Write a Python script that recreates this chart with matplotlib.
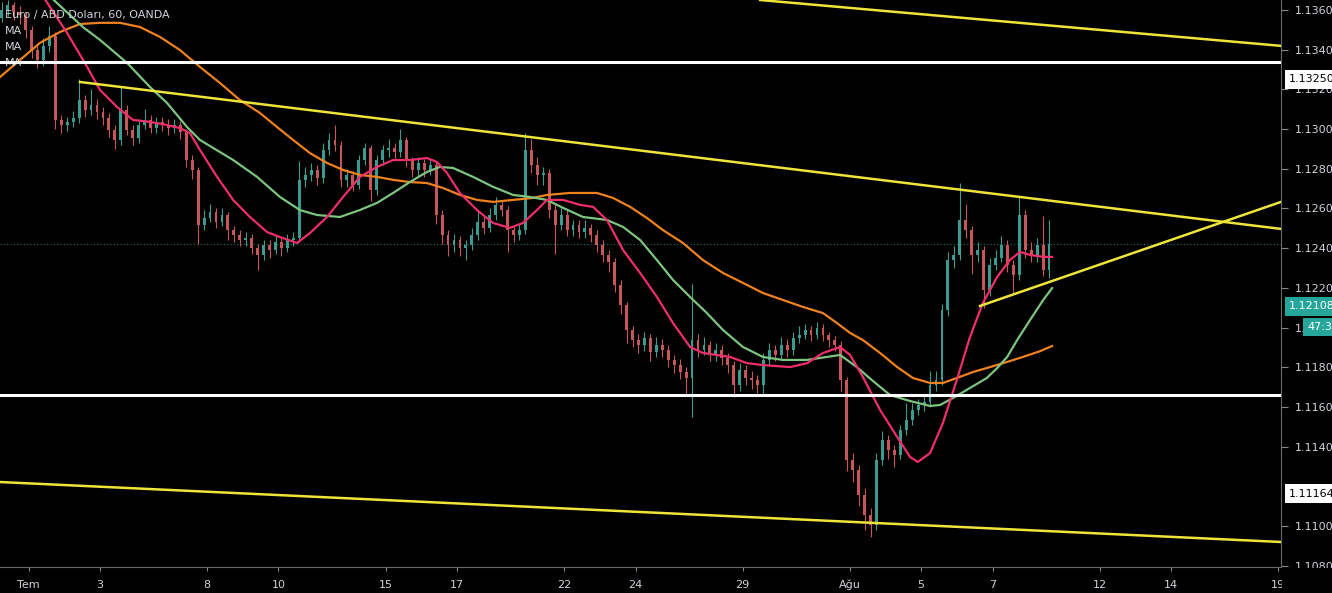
import matplotlib
matplotlib.use('Agg')
import matplotlib.pyplot as plt
import matplotlib.transforms as mtransforms
from matplotlib.patches import Rectangle
import numpy as np

# EUR/USD 4h candles, prices given as pips above 1.1000
first_open = 356
closes = [360, 362.5, 359, 357.5, 350, 340, 335, 342, 347, 304.5,
          302, 303.5, 305.5, 314.6, 309.6, 312, 308.6, 305.6, 299.5, 294.5,
          309.6, 299.5, 295.5, 302, 304.5, 300.5, 303.5, 302, 300.5, 302,
          298.5, 284.4, 279.3, 251.6, 255.2, 258.2, 253.2, 256.7, 249.1, 246.6,
          244.1, 245.1, 240.1, 236.5, 241.6, 239.1, 243.1, 240.1, 244.1, 245.1,
          274.3, 276.8, 279.3, 275.3, 289.4, 294.5, 292, 274.3, 276.8, 271.8,
          284.4, 290.4, 269.3, 284.4, 289.4, 290.4, 288.4, 294.5, 284.4, 279.3,
          282.9, 279.3, 281.9, 256.7, 246.6, 241.6, 244.1, 240.1, 241.6, 246.6,
          253.2, 250.1, 256.7, 261.7, 259.2, 249.1, 246.6, 249.1, 289.4, 281.9,
          276.8, 278, 259.2, 251.6, 256.7, 249.1, 251.6, 248.1, 250.1, 246.6,
          241.6, 236.5, 233, 221.4, 211.4, 198.8, 193.7, 191.2, 194.7, 187.7,
          191.2, 188.7, 183.6, 181.1, 177.6, 174.6, 193.7, 188.7, 191.2, 186.1,
          188.7, 184.6, 181.1, 171.1, 178.6, 174.6, 173.6, 171.1, 183.6, 188.7,
          186.1, 191.2, 188.7, 194.7, 196.2, 198.8, 196.2, 199.8, 196.2, 193.7,
          191.2, 173.6, 133.3, 128.2, 115.6, 105.5, 100.5, 133.3, 143.4, 138.3,
          135.8, 148.4, 153.4, 158.5, 161, 162.5, 171.1, 173.6, 208.8, 234,
          236.5, 254.2, 249.1, 236.5, 239.1, 218.9, 231.5, 235, 241.6, 231.5,
          226.5, 256.7, 239.1, 236.5, 241.6, 229, 242]
highs = [364, 365, 364, 362, 359, 352, 343, 346, 352, 349,
         307, 306, 309, 325, 317, 320, 315, 311, 308, 302,
         321, 312, 302, 305, 310, 307, 306, 306, 305, 305,
         304, 300, 287, 281, 259, 262, 260, 260, 258, 251,
         249, 248, 247, 242, 244, 244, 246, 245, 247, 248,
         284, 281, 283, 282, 293, 298, 302, 294, 280, 279,
         287, 293, 292, 287, 292, 295, 293, 300, 296, 286,
         286, 285, 285, 284, 259, 249, 247, 246, 244, 250,
         259, 256, 260, 266, 264, 261, 251, 252, 298, 295,
         286, 281, 280, 262, 260, 259, 254, 254, 254, 252,
         249, 244, 239, 235, 224, 213, 201, 197, 198, 197,
         195, 194, 191, 186, 184, 180, 222, 197, 195, 193,
         192, 191, 187, 183, 182, 181, 178, 176, 187, 192,
         191, 195, 194, 198, 201, 202, 201, 203, 202, 198,
         196, 193, 175, 137, 131, 119, 109, 137, 148, 146,
         141, 151, 162, 162, 164, 166, 178, 178, 212, 238,
         241, 273, 262, 251, 243, 241, 235, 239, 246, 244,
         234, 266, 259, 243, 245, 256, 254]
lows = [354, 357, 355, 353, 346, 336, 331, 332, 339, 300,
        298, 299, 301, 303, 306, 307, 305, 302, 296, 290,
        292, 297, 292, 293, 300, 298, 298, 299, 297, 298,
        295, 281, 275, 242, 249, 253, 250, 251, 244, 243,
        241, 241, 237, 229, 234, 235, 237, 236, 238, 241,
        243, 271, 274, 272, 273, 287, 289, 271, 271, 269,
        270, 282, 264, 267, 282, 286, 285, 286, 281, 276,
        276, 276, 277, 252, 242, 236, 238, 236, 234, 239,
        244, 247, 248, 254, 256, 238, 243, 244, 247, 278,
        272, 272, 255, 237, 249, 246, 246, 245, 245, 243,
        238, 233, 228, 218, 207, 192, 190, 187, 188, 183,
        185, 185, 180, 177, 174, 166, 155, 185, 186, 183,
        183, 181, 177, 165, 168, 171, 169, 167, 166, 181,
        183, 184, 185, 186, 192, 194, 193, 194, 193, 190,
        188, 168, 128, 122, 110, 98, 94.5, 98, 131, 134,
        130, 134, 146, 151, 156, 158, 160, 168, 171, 206,
        230, 234, 245, 227, 233, 210, 216, 229, 233, 228,
        217, 224, 235, 233, 233, 226, 225]

# moving averages (trading day, pips above 1.1000)
ma_fast_days = [0.32, 1.08, 1.64, 2.00, 2.48, 2.92, 3.40, 3.88, 4.24, 4.52, 4.80, 5.28, 5.73, 6.20,
                6.68, 7.04, 7.52, 7.88, 8.36, 8.81, 9.28, 9.76, 10.21, 10.68, 11.16, 11.44, 11.72,
                12.08, 12.56, 13.01, 13.48, 13.85, 14.24, 14.52, 14.97, 15.45, 15.81, 16.20, 16.65,
                17.13, 17.60, 18.05, 18.53, 18.89, 19.65, 20.12, 20.57, 21.33, 21.81, 22.25, 22.73,
                23.01, 23.37, 23.85, 24.33, 24.69, 24.91, 25.25, 25.61, 26.00, 26.37, 26.73, 27.13,
                27.49, 27.77, 28.05, 28.42, 28.67]
ma_fast_vals = [369.1, 348.4, 331.3, 319.7, 311.1, 304.6, 303.6, 302.0, 300.5, 298.0, 289.5, 275.9,
                264.3, 255.7, 248.1, 245.6, 242.6, 247.6, 255.7, 265.8, 275.9, 280.9, 284.4, 284.4,
                285.4, 283.4, 277.9, 267.8, 259.2, 252.7, 250.2, 252.7, 259.2, 264.3, 264.3, 261.8,
                260.8, 254.2, 239.1, 227.5, 215.4, 202.3, 190.2, 187.2, 185.2, 182.1, 181.1, 180.1,
                182.1, 187.2, 190.2, 186.2, 175.1, 158.5, 144.9, 134.8, 132.3, 136.8, 151.9, 173.6,
                195.3, 212.4, 225.5, 234.1, 238.1, 236.6, 235.6, 235.6]
ma_mid_days = [0.46, 1.52, 2.00, 2.76, 3.40, 3.88, 4.44, 4.80, 5.73, 6.40, 7.04, 7.60, 8.08, 8.72,
               9.28, 9.76, 10.21, 10.68, 11.16, 11.52, 11.89, 12.45, 13.01, 13.57, 14.04, 14.52,
               14.97, 15.53, 16.20, 16.65, 17.13, 17.60, 18.05, 18.53, 19.00, 19.45, 20.01, 20.57,
               21.13, 21.80, 22.36, 22.73, 23.20, 23.65, 24.13, 24.69, 25.25, 25.53, 25.89, 26.37,
               26.84, 27.13, 27.41, 27.69, 28.05, 28.42, 28.67]
ma_mid_vals = [369.1, 351.4, 344.9, 333.3, 321.2, 313.1, 301.0, 294.5, 284.4, 275.9, 265.8, 259.2,
               256.7, 255.7, 259.2, 262.8, 267.8, 273.3, 278.4, 280.9, 280.4, 275.9, 270.9, 266.8,
               265.8, 264.3, 260.3, 255.7, 254.2, 250.7, 244.1, 234.0, 224.0, 215.4, 207.3, 198.8,
               190.2, 185.2, 183.7, 183.7, 185.2, 186.2, 180.1, 173.1, 166.0, 163.0, 160.5, 161.0,
               164.5, 169.6, 174.6, 179.6, 185.2, 193.7, 203.8, 213.9, 219.9]
ma_slow_days = [-0.80, -0.24, 0.32, 0.88, 1.44, 2.00, 2.56, 3.12, 3.68, 4.24, 4.80, 5.36, 5.92, 6.48,
                6.96, 7.41, 7.88, 8.36, 8.81, 9.28, 9.76, 10.21, 10.68, 11.16, 11.61, 12.08, 12.56,
                13.01, 13.57, 14.13, 14.52, 15.16, 15.92, 16.37, 16.85, 17.32, 17.77, 18.33, 18.89,
                19.45, 20.01, 20.57, 21.13, 21.69, 22.25, 22.64, 23.01, 23.37, 23.85, 24.33, 24.77,
                25.25, 25.61, 26.00, 26.45, 26.93, 27.41, 27.85, 28.33, 28.67]
ma_slow_vals = [326.2, 334.8, 343.4, 348.9, 352.9, 353.5, 353.5, 351.4, 346.4, 339.8, 331.3, 323.2,
                314.6, 308.1, 301.0, 294.5, 287.9, 282.9, 279.4, 276.9, 275.9, 274.4, 273.3, 272.8,
                270.3, 266.8, 264.3, 263.3, 264.3, 265.3, 266.8, 267.8, 267.8, 265.3, 260.8, 255.2,
                249.1, 242.6, 234.0, 227.5, 222.5, 217.4, 213.9, 210.4, 207.3, 202.3, 197.3, 193.7,
                187.2, 180.1, 174.6, 172.1, 172.1, 174.6, 177.6, 180.1, 182.7, 185.2, 188.1, 190.7]

# drawn trend lines: (day0, price0, day1, price1)
trend_lines = [(20.49, 1.13650, 35.08, 1.13419),
               (1.44, 1.13237, 35.08, 1.12497),
               (-0.80, 1.11222, 35.08, 1.10920),
               (26.65, 1.12109, 35.08, 1.12633)]
levels = [1.13338, 1.11660]
last_price = 1.1242

tick_days = [0, 2, 5, 7, 10, 12, 15, 17, 20, 23, 25, 27, 30, 32, 35]
tick_names = ['Tem', '3', '8', '10', '15', '17', '22', '24', '29', 'Ağu', '5', '7', '12', '14', '19']
price_ticks = [1.1080, 1.1100, 1.1140, 1.1160, 1.1180, 1.1200, 1.1220,
               1.1240, 1.1260, 1.1280, 1.1300, 1.1320, 1.1340, 1.1360]
# (price, text, face, text colour, left offset px)
axis_tags = [(1.13250, '1.13250', 'white', 'black', 4),
             (1.12108, '1.12108', '#26a69a', 'white', 4),
             (1.12003, '47:34', '#26a69a', 'white', 22),
             (1.11162, '1.11164', 'white', 'black', 4)]
title = 'Euro / ABD Doları, 60, OANDA'

pip = 1e-4
c = 1.1 + np.array(closes) * pip
o = np.concatenate([[1.1 + first_open * pip], c[:-1]])
h = 1.1 + np.array(highs) * pip
l = 1.1 + np.array(lows) * pip
t = -0.75 + np.arange(len(c)) / 6

up_col, dn_col = '#3b9b90', '#c4575a'
txt_col = '#d1d4dc'

fig = plt.figure(figsize=(13.32, 5.93), dpi=100, facecolor='black')
ax = fig.add_axes([0, 26 / 593, 1281 / 1332, 567 / 593], facecolor='black')

cols = np.where(c >= o, up_col, dn_col)
ax.vlines(t, l, h, colors=cols, lw=0.8, zorder=2)
body = np.where(np.abs(c - o) < 0.00004, 0.00004, c - o)
ax.bar(t, body, bottom=o, width=0.08, color=cols, zorder=2)

ax.axhline(last_price, color='#26a69a', ls=(0, (1, 2)), lw=0.8, alpha=0.7, zorder=1)

ax.plot(ma_slow_days, 1.1 + np.array(ma_slow_vals) * pip, color='#f0811f', lw=1.6, zorder=3)
ax.plot(ma_mid_days, 1.1 + np.array(ma_mid_vals) * pip, color='#7cc47f', lw=1.6, zorder=3)
ax.plot(ma_fast_days, 1.1 + np.array(ma_fast_vals) * pip, color='#ee2f6b', lw=1.6, zorder=3)

for x0, y0, x1, y1 in trend_lines:
    ax.plot([x0, x1], [y0, y1], color='#eee43a', lw=1.8, zorder=4)
for lv in levels:
    ax.axhline(lv, color='white', lw=2.2, zorder=4)

ax.set_xlim(-0.80, 35.08)
ax.set_ylim(1.10794, 1.13650)

ax.yaxis.tick_right()
ax.set_yticks(price_ticks)
ax.set_yticklabels(['%.5f' % p for p in price_ticks])
ax.set_xticks(tick_days)
ax.set_xticklabels(tick_names)
ax.tick_params(axis='y', colors='#8a8a8a', labelcolor=txt_col, labelsize=8, length=5, pad=5)
ax.tick_params(axis='x', colors='#8a8a8a', labelcolor=txt_col, labelsize=8, length=3, pad=6)
for side in ['top', 'left']:
    ax.spines[side].set_visible(False)
for side in ['right', 'bottom']:
    ax.spines[side].set_color('#6a6a6a')

trans = mtransforms.blended_transform_factory(ax.transAxes, ax.transData)
for val, txt, fc, tc, off in axis_tags:
    ax.text(1 + (off + 4) / 1281, val, txt, transform=trans, ha='left', va='center', fontsize=8,
            color=tc, clip_on=False, zorder=6,
            bbox=dict(boxstyle='square,pad=0.4', fc=fc, ec='none'))

ax.text(5 / 1281, 1 - 15 / 567, title, transform=ax.transAxes, color=txt_col, fontsize=8, va='center')
for k in range(3):
    ax.text(5 / 1281, 1 - (31 + 16 * k) / 567, 'MA', transform=ax.transAxes, color=txt_col,
            fontsize=8, va='center')

# price scale panel hides what runs past the corner
fig.patches.append(Rectangle((1282 / 1332, 0), 50 / 1332, 25 / 593, transform=fig.transFigure,
                             facecolor='black', edgecolor='none', zorder=5))

fig.savefig('out.png', dpi=100, facecolor='black')
